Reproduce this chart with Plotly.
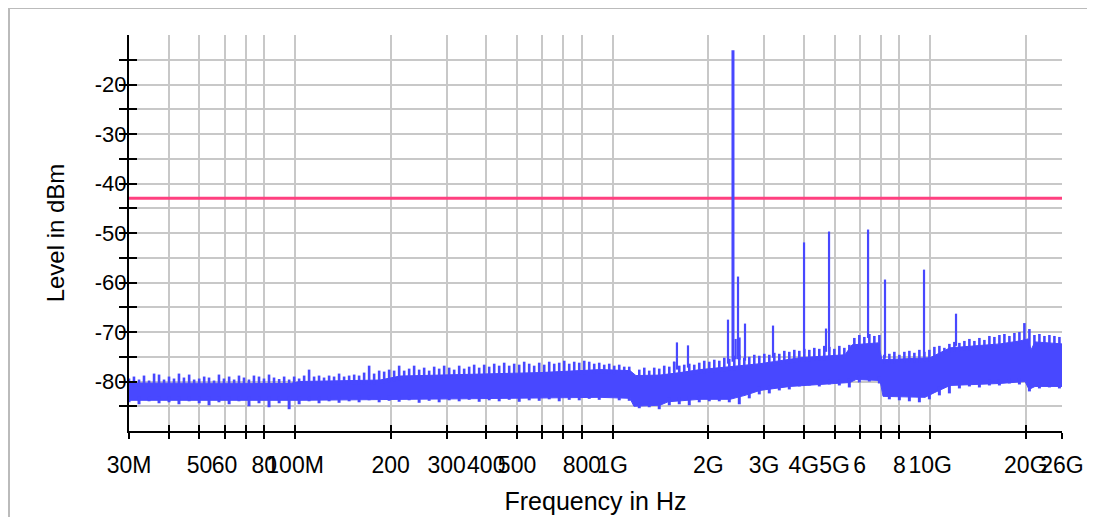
import math
import numpy as np
import plotly.graph_objects as go

# ---------------- data ----------------
# dense core of the noise trace: upper and lower edge (frequency in MHz, level in dBm)
core_upper_mhz = [30, 50.2, 96.4, 103.6, 185.1, 214, 331, 591, 912, 1134, 1184, 1410, 1630,
                  1884, 2342, 2911, 3891, 5391, 5673, 6849, 7052, 9986, 11545, 16590, 19180,
                  20320, 20770, 21380, 26000]
core_upper_dbm = [-80.3, -80.3, -80.4, -80.0, -79.7, -78.9, -78.6, -78.2, -77.6, -77.8, -78.8,
                  -78.7, -78.2, -77.6, -77.0, -76.4, -75.2, -74.6, -72.6, -72.2, -75.6, -75.2,
                  -73.2, -72.4, -71.8, -71.4, -73.6, -72.0, -72.4]
core_lower_mhz = [30, 103.6, 331, 912, 1134, 1167, 1410, 1494, 1884, 2342, 2611, 2911, 3620,
                  5591, 5841, 6950, 7102, 9630, 10350, 11545, 16590, 19890, 20470, 21380, 26000]
core_lower_dbm = [-83.8, -83.8, -83.5, -83.2, -83.4, -85.0, -84.8, -84.1, -83.6, -83.6, -82.8,
                  -81.8, -81.0, -80.2, -79.6, -79.8, -83.0, -83.2, -82.2, -80.8, -80.4, -80.0,
                  -81.6, -81.0, -81.0]

# upward noise needles of the trace (frequency in MHz, peak level in dBm)
peak_mhz = [30.0, 31.1, 32.26, 33.45, 34.7, 35.98, 37.3, 38.68, 40.1, 41.58, 43.1, 44.69, 46.4,
            48.11, 49.9, 51.74, 53.6, 55.58, 57.6, 59.72, 62.0, 64.29, 66.6, 69.06, 71.6, 74.24,
            77.0, 79.84, 82.8, 85.86, 89.1, 92.39, 95.8, 99.34, 103.0, 106.8, 110.7, 114.8,
            119.0, 123.4, 128.0, 132.7, 137.6, 142.7, 148.0, 153.5, 159.1, 165.0, 171.1, 177.4,
            184.0, 190.8, 197.8, 205.1, 212.7, 220.6, 228.7, 237.1, 245.9, 255.0, 264.4, 274.2,
            284.3, 294.8, 305.7, 317.0, 328.7, 340.8, 353.4, 366.4, 380.0, 394.0, 408.6, 423.7,
            439.3, 455.5, 472.4, 489.8, 507.9, 526.6, 546.1, 566.2, 587.2, 608.9, 631.4, 654.7,
            678.9, 704.0, 730.0, 756.9, 784.9, 813.9, 843.9, 875.0, 907.4, 940.9, 975.7, 1011.7,
            1049, 1087.7, 1128, 1213, 1257.8, 1304, 1352.1, 1402, 1453.7, 1508, 1563.6, 1621,
            1680.8, 1743, 1807.3, 1874, 1943.1, 2015, 2089.4, 2167, 2247.0, 2330, 2416.0, 2505,
            2597.4, 2693, 2792.4, 2896, 3002.8, 3114, 3228.9, 3348, 3471.5, 3600, 3732.8, 3871,
            4013.8, 4162, 4315.6, 4475, 4640.1, 4812, 4989.6, 5174, 5364.9, 5563, 5768.3, 5982,
            6202.7, 6432, 6669.3, 6916, 7171.2, 7436, 7710.4, 7995, 8290.1, 8597, 8914.2, 9244,
            9585.1, 9939, 10306, 10687, 11081, 11491, 11915, 12355, 12811, 13285, 13775, 14284,
            14811, 15358, 15925, 16514, 17123, 17756, 18411, 19092, 19797, 20528, 21286, 22072,
            22887, 23732, 24608, 25518]
peak_dbm = [-79.4, -79.0, -79.6, -78.8, -79.8, -78.4, -78.6, -79.6, -79.0, -79.4, -78.4, -79.2,
            -78.6, -79.6, -79.4, -79.0, -79.2, -79.8, -78.6, -79.4, -79.0, -79.6, -78.8, -79.2,
            -79.6, -78.8, -79.0, -79.4, -78.6, -79.2, -79.5, -79.0, -79.6, -79.0, -79.4, -78.8,
            -77.6, -79.0, -78.8, -79.2, -78.8, -79.0, -78.4, -79.0, -78.8, -78.6, -78.8, -78.2,
            -76.8, -78.4, -77.8, -78.0, -77.6, -77.8, -76.8, -77.8, -77.4, -76.8, -77.6, -77.2,
            -77.8, -77.0, -77.4, -76.8, -77.2, -77.6, -76.8, -77.4, -77.0, -76.6, -77.2, -76.6,
            -77.0, -76.4, -76.8, -76.2, -76.8, -76.4, -76.6, -76.0, -76.4, -76.8, -76.2, -76.6,
            -76.0, -76.4, -76.2, -75.8, -76.4, -76.0, -76.2, -75.8, -76.0, -76.4, -76.2, -76.6,
            -76.4, -76.8, -76.6, -77.0, -77.0, -77.6, -77.2, -77.8, -77.2, -77.4, -76.8, -77.0,
            -76.0, -76.8, -76.6, -76.4, -76.6, -76.2, -75.8, -76.0, -75.6, -75.8, -75.2, -75.4,
            -74.8, -74.6, -75.2, -75.0, -74.6, -74.8, -74.4, -74.6, -74.2, -74.4, -73.8, -74.0,
            -73.6, -73.8, -73.4, -73.6, -73.2, -73.4, -72.8, -73.0, -73.4, -72.8, -73.2, -72.6,
            -71.2, -70.6, -71.0, -70.4, -70.8, -70.6, -74.6, -74.4, -74.0, -74.6, -74.0, -73.8,
            -74.2, -73.6, -74.0, -73.6, -73.0, -72.8, -73.2, -72.4, -72.0, -72.2, -71.8, -71.4,
            -71.8, -71.2, -71.6, -70.8, -71.0, -70.6, -70.4, -70.8, -70.2, -70.0, -68.2, -69.4,
            -70.6, -70.4, -70.8, -70.6, -70.8, -71.0]

# downward noise needles of the trace (frequency in MHz, lowest level in dBm)
trough_mhz = [30.0, 32.26, 34.7, 37.3, 40.1, 43.1, 46.4, 49.9, 53.6, 57.6, 62.0, 66.6, 71.6,
              77.0, 82.8, 89.1, 95.8, 103.0, 110.7, 119.0, 128.0, 137.6, 148.0, 159.1, 171.1,
              184.0, 197.8, 212.7, 228.7, 245.9, 264.4, 284.3, 305.7, 328.7, 353.4, 380.0, 408.6,
              439.3, 472.4, 507.9, 546.1, 587.2, 631.4, 678.9, 730.0, 784.9, 843.9, 907.4, 975.7,
              1049, 1128, 1213, 1304, 1402, 1508, 1621, 1743, 1874, 2015, 2167, 2330, 2505, 2693,
              2896, 3114, 3348, 3600, 3871, 4162, 4475, 4812, 5174, 5563, 5982, 6432, 6916, 7436,
              7995, 8597, 9244, 9939, 10687, 11491, 12355, 13285, 14284, 15358, 16514, 17756,
              19092, 20528, 22072, 23732, 25518]
trough_dbm = [-84.2, -84.6, -84.0, -84.4, -84.2, -84.6, -84.0, -84.4, -84.8, -84.2, -84.6, -84.0,
              -85.0, -84.4, -85.2, -84.4, -85.6, -84.6, -84.0, -84.4, -84.0, -84.3, -84.0, -84.2,
              -83.8, -84.2, -83.9, -84.1, -83.8, -84.3, -83.9, -84.2, -83.8, -84.0, -83.7, -84.1,
              -83.8, -84.0, -83.7, -84.1, -83.8, -83.9, -83.6, -84.0, -83.7, -83.8, -83.5, -83.7,
              -83.2, -83.8, -83.9, -85.4, -85.2, -85.6, -84.8, -84.6, -84.8, -84.2, -84.0, -84.0,
              -84.2, -84.6, -83.4, -82.6, -82.4, -81.8, -81.6, -81.0, -80.8, -81.0, -80.6, -80.8,
              -81.2, -80.2, -80.0, -80.4, -83.6, -83.8, -84.0, -84.2, -83.6, -82.8, -82.4, -81.4,
              -81.0, -81.2, -80.8, -80.8, -80.4, -80.6, -82.0, -81.4, -81.2, -81.4]

# discrete emissions (spurs): frequency, peak level, local noise level at their foot
spur_mhz = [1560, 1594, 1727, 2308, 2440, 2482, 2510, 2611, 3199, 4006, 4698, 4802, 6372,
            7205, 9561, 12058]
spur_peak_dbm = [-76.0, -72.1, -72.7, -67.5, -71.4, -58.8, -71.1, -68.3, -68.7, -51.9, -69.3,
                 -49.7, -49.3, -59.4, -57.4, -66.3]
spur_base_dbm = [-78.0, -77.6, -77.2, -76.4, -75.5, -75.5, -75.6, -75.8, -75.2, -74.2, -74.0,
                 -74.0, -71.2, -75.2, -75.0, -72.8]

carrier_mhz = [2393]
carrier_peak_dbm = [-13.1]
carrier_base_dbm = [-76.0]

limit_dbm = -43.0
freq_min_mhz, freq_max_mhz = 30, 26000

x_tick_hz = [30e6, 40e6, 50e6, 60e6, 70e6, 80e6, 100e6, 200e6, 300e6, 400e6, 500e6, 600e6,
             700e6, 800e6, 1e9, 2e9, 3e9, 4e9, 5e9, 6e9, 7e9, 8e9, 10e9, 20e9, 26e9]
x_tick_text = ["30M", "", "50", "60", "", "80", "100M", "200", "300", "400", "500", "", "",
               "800", "1G", "2G", "3G", "4G", "5G", "6", "", "8", "10G", "20G", "26G"]
y_tick_vals = [-85, -80, -75, -70, -65, -60, -55, -50, -45, -40, -35, -30, -25, -20, -15]
y_tick_text = ["", "-80", "", "-70", "", "-60", "", "-50", "", "-40", "", "-30", "", "-20", ""]
y_range = [-90, -10]

# ---------------- figure ----------------
BLUE = "#4848FF"
PINK = "#FF4080"
GRID = "#C8C8C8"
FONT = "Liberation Sans, Arial, sans-serif"

# plot box inside the figure (the page adds an 8 px body margin)
L, T, R, B = 121, 27, 41, 94
PW, PH = 1095 - L - R, 517 - T - B


def hz(lst):
    return [v * 1e6 for v in lst]


def segments(freqs, bases, peaks):
    xs, ys = [], []
    for f, b, p in zip(freqs, bases, peaks):
        xs += [f * 1e6, f * 1e6, None]
        ys += [b, p, None]
    return xs, ys


def edge_at(freqs, edge_f, edge_v, shift):
    # level of a core edge at the needle frequencies, nudged into the core so needles attach
    v = np.interp(np.log10(freqs), np.log10(edge_f), edge_v)
    return list(v + shift)


fig = go.Figure()

fig.add_trace(go.Scatter(x=hz(core_lower_mhz), y=core_lower_dbm, mode="lines",
                         line=dict(color=BLUE, width=1), hoverinfo="skip", showlegend=False))
fig.add_trace(go.Scatter(x=hz(core_upper_mhz), y=core_upper_dbm, mode="lines", fill="tonexty",
                         fillcolor=BLUE, line=dict(color=BLUE, width=1), showlegend=False))

px_, py_ = segments(peak_mhz, edge_at(peak_mhz, core_upper_mhz, core_upper_dbm, -0.8), peak_dbm)
fig.add_trace(go.Scatter(x=px_, y=py_, mode="lines", line=dict(color=BLUE, width=2.6),
                         hoverinfo="skip", showlegend=False))
tx_, ty_ = segments(trough_mhz, edge_at(trough_mhz, core_lower_mhz, core_lower_dbm, 0.8),
                    trough_dbm)
fig.add_trace(go.Scatter(x=tx_, y=ty_, mode="lines", line=dict(color=BLUE, width=3),
                         hoverinfo="skip", showlegend=False))

fig.add_trace(go.Scatter(x=[freq_min_mhz * 1e6, freq_max_mhz * 1e6], y=[limit_dbm, limit_dbm],
                         mode="lines", line=dict(color=PINK, width=3), showlegend=False))

sx, sy = segments(spur_mhz, spur_base_dbm, spur_peak_dbm)
fig.add_trace(go.Scatter(x=sx, y=sy, mode="lines", line=dict(color=BLUE, width=2.2),
                         showlegend=False))
cx, cy = segments(carrier_mhz, carrier_base_dbm, carrier_peak_dbm)
fig.add_trace(go.Scatter(x=cx, y=cy, mode="lines", line=dict(color=BLUE, width=3),
                         showlegend=False))

# invisible trace on the overlay axes (inside half of the crossing ticks)
fig.add_trace(go.Scatter(x=[freq_min_mhz * 1e6], y=[y_range[0]], xaxis="x2", yaxis="y2",
                         mode="markers", marker=dict(opacity=0), hoverinfo="skip",
                         showlegend=False))

xr = [math.log10(freq_min_mhz * 1e6), math.log10(freq_max_mhz * 1e6)]

fig.update_layout(
    width=1095, height=517,
    margin=dict(l=L, r=R, t=T, b=B, autoexpand=False),
    paper_bgcolor="white", plot_bgcolor="white",
    font=dict(family=FONT, color="black"),
    xaxis=dict(type="log", range=xr, tickvals=x_tick_hz, ticktext=x_tick_text,
               tickangle=0, automargin=False,
               showgrid=True, gridcolor=GRID, gridwidth=2, zeroline=False,
               showline=True, linecolor="black", linewidth=2,
               ticks="outside", ticklen=6, tickwidth=1.5, tickcolor="black",
               tickfont=dict(size=23), ticklabelstandoff=6,
               title=dict(text="Frequency in Hz", font=dict(size=25), standoff=16)),
    yaxis=dict(range=y_range, tickvals=y_tick_vals, ticktext=y_tick_text, automargin=False,
               showgrid=True, gridcolor=GRID, gridwidth=2, zeroline=False,
               showline=True, linecolor="black", linewidth=2,
               ticks="outside", ticklen=8, tickwidth=1.5, tickcolor="black",
               tickfont=dict(size=22), ticklabelstandoff=-12,
               title=dict(text="Level in dBm", font=dict(size=24), standoff=23)),
    xaxis2=dict(type="log", range=xr, overlaying="x", anchor="y2", side="bottom",
                tickvals=x_tick_hz, showticklabels=False, showgrid=False, zeroline=False,
                automargin=False,
                showline=False, ticks="inside", ticklen=6, tickwidth=1.5, tickcolor="black"),
    yaxis2=dict(range=y_range, overlaying="y", anchor="x2", side="left",
                tickvals=y_tick_vals, showticklabels=False, showgrid=False, zeroline=False,
                automargin=False,
                showline=False, ticks="inside", ticklen=8, tickwidth=1.5, tickcolor="black"),
    shapes=[dict(type="rect", xref="paper", yref="paper",
                 x0=(1 - L) / PW, x1=(1120 - L) / PW,
                 y0=(517 - B - 560) / PH, y1=(517 - B - 0) / PH,
                 line=dict(color="#BBBBBB", width=2), fillcolor="rgba(0,0,0,0)", layer="below")],
)

fig.write_html("out.html")
